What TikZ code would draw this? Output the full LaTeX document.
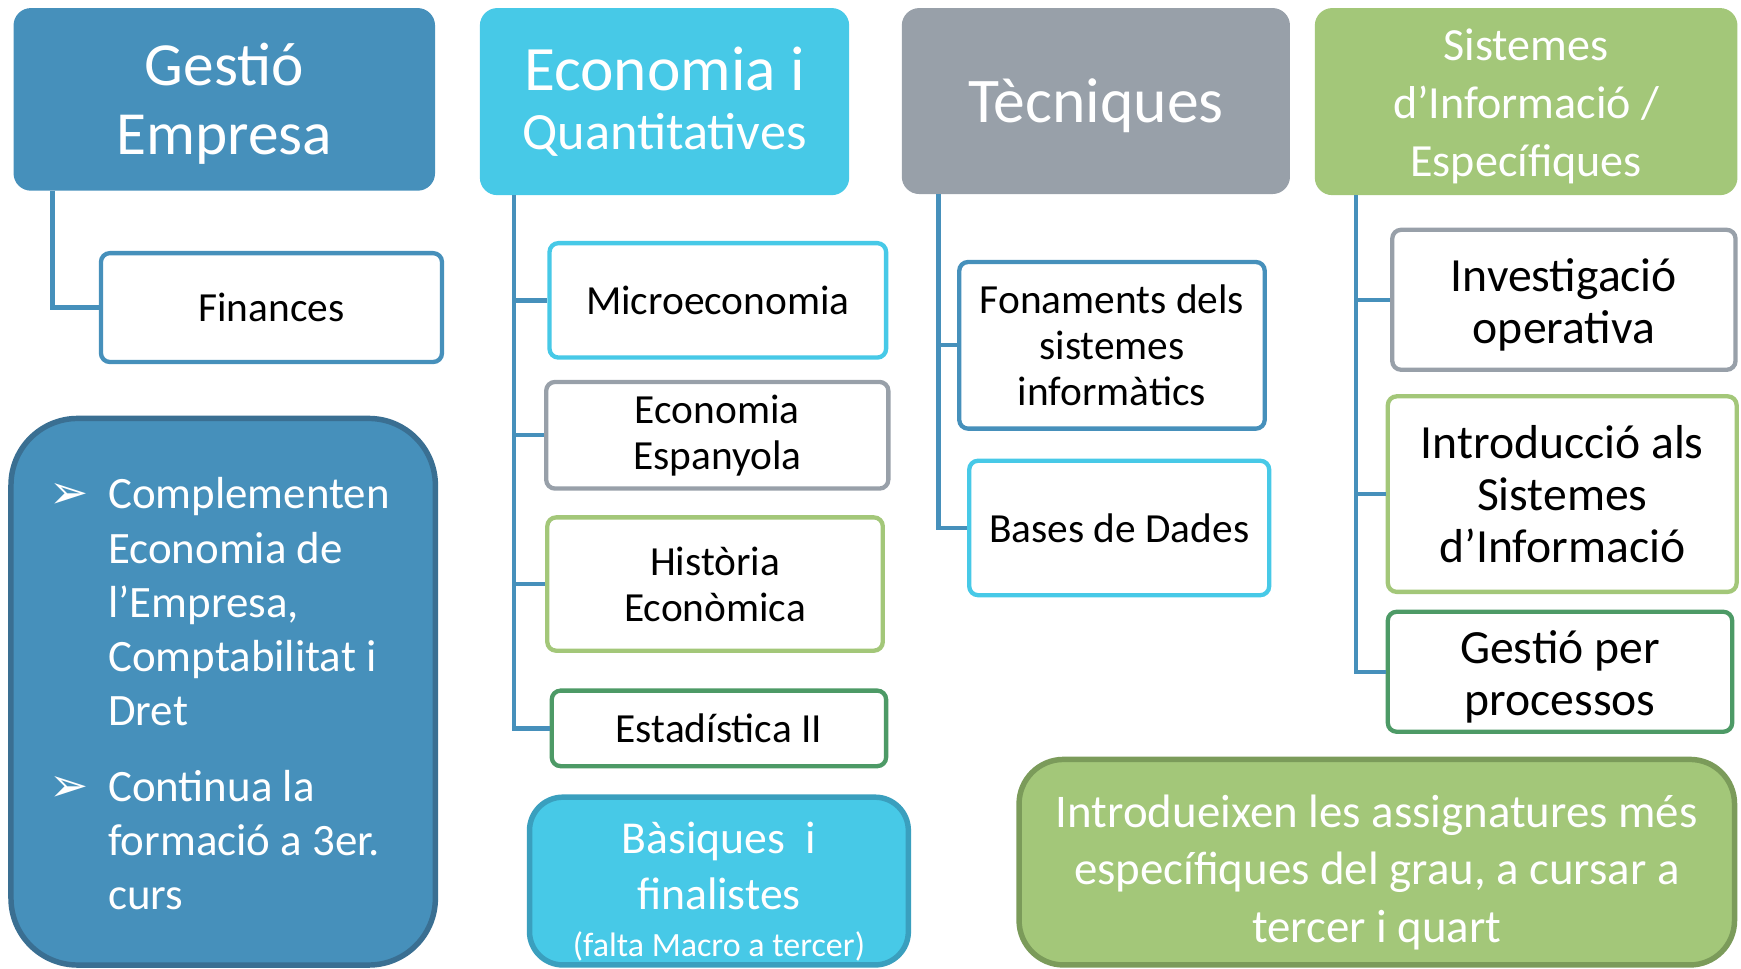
\documentclass[tikz,border=0pt]{standalone}
\usepackage{fontspec}
\setmainfont{Carlito}
\newfontfamily\symfont{DejaVu Sans}
\usetikzlibrary{positioning}

\definecolor{steel}{HTML}{4690BB}
\definecolor{steeldark}{HTML}{3A6F92}
\definecolor{sky}{HTML}{47C9E7}
\definecolor{skydark}{HTML}{3A9FBE}
\definecolor{slate}{HTML}{98A0A9}
\definecolor{leaf}{HTML}{A3C779}
\definecolor{leafdark}{HTML}{7B9B5A}
\definecolor{pine}{HTML}{4D9A66}

\newcommand{\bul}{\hspace{0.02cm}\smash{\symfont\fontsize{12}{12}\selectfont ➢}}

\begin{document}
\begin{tikzpicture}[x=0.01cm, y=-0.01cm,
    head/.style={rounded corners=0.15cm, fill=#1, draw=#1, text=white, align=center, inner sep=0pt},
    subj/.style={rounded corners=0.08cm, draw=#1, line width=1.1pt, fill=white, align=center, inner sep=0pt, font=\fontsize{10.6}{11.8}\selectfont},
    conn/.style={steel, line width=1.1pt}]
    \useasboundingbox (0,0) rectangle (1568,872);

    % column headers
    \node[head=steel, minimum width=3.78cm, minimum height=1.63cm, font=\fontsize{15.7}{17.6}\selectfont] (gestio) at (202,89.5) {\rule{0pt}{13pt}Gestió\\Empresa};
    \node[head=sky, minimum width=3.31cm, minimum height=1.67cm, font=\fontsize{13.4}{15}\selectfont] (econ) at (598.5,91.5) {{\fontsize{16.2}{15}\selectfont Economia i}\\Quantitatives};
    \node[head=slate, minimum width=3.48cm, minimum height=1.66cm, font=\fontsize{16.3}{18}\selectfont] (tecn) at (987,91) {\rule{0pt}{13.5pt}Tècniques};
    \node[head=leaf, minimum width=3.79cm, minimum height=1.67cm, font=\fontsize{11.8}{14.8}\selectfont] (sist) at (1374.5,91.5) {\rule{0pt}{10.5pt}Sistemes\\d’Informació /\\Específiques};

    % subjects
    \node[subj=steel, minimum width=3.07cm, minimum height=0.98cm] (fin) at (244.5,277) {Finances};

    \node[subj=sky, minimum width=3.03cm, minimum height=1.03cm] (micro) at (646.5,270.5) {Microeconomia};
    \node[subj=slate, minimum width=3.08cm, minimum height=0.96cm] (espa) at (646,392) {Economia\\Espanyola};
    \node[subj=leaf, minimum width=3.02cm, minimum height=1.20cm] (hist) at (644,526) {Història\\Econòmica};
    \node[subj=pine, minimum width=3.01cm, minimum height=0.68cm] (esta) at (647.5,656) {Estadística II};

    \node[subj=steel, minimum width=2.75cm, minimum height=1.50cm] (fon) at (1001.5,311) {Fonaments dels\\sistemes\\informàtics};
    \node[subj=sky, minimum width=2.70cm, minimum height=1.21cm] (bases) at (1008,475.5) {Bases de Dades};

    \node[subj=slate, minimum width=3.09cm, minimum height=1.26cm, font=\fontsize{12.2}{13.4}\selectfont] (inv) at (1408.5,270) {\rule{0pt}{11pt}Investigació\\operativa};
    \node[subj=leaf, minimum width=3.14cm, minimum height=1.76cm, font=\fontsize{12.2}{13.4}\selectfont] (intro) at (1407,445) {Introducció als\\Sistemes\\d’Informació};
    \node[subj=pine, minimum width=3.10cm, minimum height=1.08cm, font=\fontsize{12.2}{13.4}\selectfont] (gpp) at (1405,605) {\rule{0pt}{11pt}Gestió per\\processos};

    % tree lines
    \draw[conn] ([xshift=0.35cm]gestio.south west) |- (fin.west);
    \coordinate (e0) at ([xshift=0.31cm]econ.south west);
    \foreach \n in {micro,espa,hist,esta}
        \draw[conn] (e0) |- (\n.west);
    \coordinate (t0) at ([xshift=0.33cm]tecn.south west);
    \foreach \n in {fon,bases}
        \draw[conn] (t0) |- (\n.west);
    \coordinate (s0) at ([xshift=0.37cm]sist.south west);
    \foreach \n in {inv,intro,gpp}
        \draw[conn] (s0) |- (\n.west);

    % notes
    \node[draw=steeldark, fill=steel, line width=1.4pt, rounded corners=0.6cm, minimum width=3.82cm, minimum height=4.92cm, text=white, align=left, inner sep=0pt, font=\fontsize{11.5}{13.9}\selectfont] (notes) at (201,623)
        {\begin{tabular}{@{}p{0.55cm}@{}p{2.62cm}@{}}
        \noalign{\vspace{3.4pt}}
        \bul & Complementen\newline Economia de\newline l’Empresa,\newline Comptabilitat i\newline Dret\\[5.4pt]
        \bul & Continua la\newline formació a 3er.\newline curs
        \end{tabular}};
    \node[draw=skydark, fill=sky, line width=1.4pt, rounded corners=0.3cm, minimum width=3.41cm, minimum height=1.51cm, text=white, align=center, inner sep=0pt, font=\fontsize{11.7}{14.5}\selectfont] (basi) at (647.5,793.5)
        {\rule{0pt}{13.5pt}Bàsiques\ \ i\\finalistes\\[-2.5pt]{\fontsize{8.7}{10}\selectfont (falta Macro a tercer)}};
    \node[draw=leafdark, fill=leaf, line width=1.4pt, rounded corners=0.4cm, minimum width=6.44cm, minimum height=1.85cm, text=white, align=center, inner sep=0pt, font=\fontsize{12}{14.8}\selectfont] (outro) at (1240,776.5)
        {\rule{0pt}{13.6pt}Introdueixen les assignatures més\\específiques del grau, a cursar a\\tercer i quart};
\end{tikzpicture}
\end{document}
